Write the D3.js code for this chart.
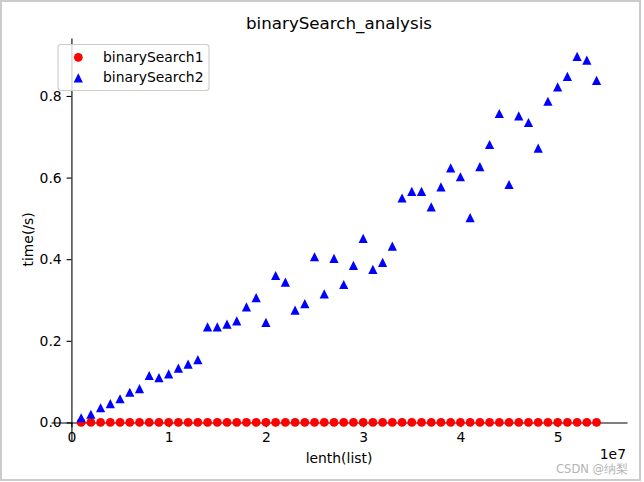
<!DOCTYPE html>
<html><head><meta charset="utf-8">
<script src="https://cdn.jsdelivr.net/npm/d3@7"></script>
<style>
body{margin:0;background:#fff}
svg{display:block}
text{font-family:"DejaVu Sans",sans-serif}
</style>
</head><body>
<svg id="c" width="644" height="482"></svg>
<script>
const lengths = [1000000,2000000,3000000,4000000,5000000,6000000,7000000,8000000,9000000,10000000,
  11000000,12000000,13000000,14000000,15000000,16000000,17000000,18000000,19000000,20000000,
  21000000,22000000,23000000,24000000,25000000,26000000,27000000,28000000,29000000,30000000,
  31000000,32000000,33000000,34000000,35000000,36000000,37000000,38000000,39000000,40000000,
  41000000,42000000,43000000,44000000,45000000,46000000,47000000,48000000,49000000,50000000,
  51000000,52000000,53000000,54000000];
const binarySearch1 = [0.00001,0.00001,0.00001,0.00001,0.00001,0.00001,0.00001,0.00001,0.00001,0.00001,
  0.00001,0.00001,0.00001,0.00001,0.00001,0.00001,0.00001,0.00001,0.00001,0.00001,
  0.00001,0.00001,0.00001,0.00001,0.00001,0.00001,0.00001,0.00001,0.00001,0.00001,
  0.00001,0.00001,0.00001,0.00001,0.00001,0.00001,0.00001,0.00001,0.00001,0.00001,
  0.00001,0.00001,0.00001,0.00001,0.00001,0.00001,0.00001,0.00001,0.00001,0.00001,
  0.00001,0.00001,0.00001,0.00001];
const binarySearch2 = [0.0115,0.020,0.036,0.046,0.058,0.074,0.083,0.115,0.110,0.119,
  0.133,0.143,0.154,0.234,0.234,0.241,0.249,0.283,0.306,0.245,
  0.360,0.344,0.275,0.291,0.406,0.315,0.402,0.338,0.385,0.451,
  0.375,0.392,0.432,0.550,0.566,0.566,0.528,0.577,0.624,0.602,
  0.502,0.627,0.681,0.757,0.583,0.751,0.735,0.672,0.787,0.822,
  0.848,0.897,0.888,0.838];
const xTicks = [0,10000000,20000000,30000000,40000000,50000000];
const xTickLabels = ["0","1","2","3","4","5"];
const yTicks = [0,0.2,0.4,0.6,0.8];
const yTickLabels = ["0.0","0.2","0.4","0.6","0.8"];
const seriesNames = ["binarySearch1","binarySearch2"];
const seriesColors = ["#ff0000","#0000ff"];

(function(){
const svg = d3.select("#c");
const pL = 51, pR = 627, pT = 38, pB = 440.8;
const x = d3.scaleLinear().domain([-2100000, 57130000]).range([pL, pR]);
const y = d3.scaleLinear().domain([-0.045, 0.942]).range([pB, pT]);

// outer border
svg.append("rect").attr("x",1).attr("y",1).attr("width",639).attr("height",479)
  .attr("fill","none").attr("stroke","#cccccc").attr("stroke-width",2);

// title
svg.append("text").attr("x",(pL+pR)/2).attr("y",29).attr("text-anchor","middle")
  .attr("font-size","16.7px").attr("fill","#000").text("binarySearch_analysis");

const tk = 4.86, pad = 4.86;
const xAxis = d3.axisBottom(x).tickValues(xTicks).tickFormat((d,i)=>xTickLabels[i])
  .tickSize(tk).tickSizeOuter(0).tickPadding(pad);
const yAxis = d3.axisLeft(y).tickValues(yTicks).tickFormat((d,i)=>yTickLabels[i])
  .tickSize(tk).tickSizeOuter(0).tickPadding(pad);

const gx = svg.append("g").attr("transform",`translate(0,${y(0)})`).call(xAxis);
const gy = svg.append("g").attr("transform",`translate(${x(0)},0)`).call(yAxis);
[gx,gy].forEach(g=>{
  g.selectAll("path.domain").attr("stroke","#000").attr("stroke-width",1.1);
  g.selectAll(".tick line").attr("stroke","#000").attr("stroke-width",1.1);
  g.selectAll(".tick text").attr("fill","#000").attr("font-size","13.9px")
    .attr("font-family","'DejaVu Sans',sans-serif");
});

// offset text
svg.append("text").attr("x",626).attr("y",459).attr("text-anchor","end")
  .attr("font-size","13.9px").text("1e7");

// axis labels
svg.append("text").attr("x",(pL+pR)/2).attr("y",463).attr("text-anchor","middle")
  .attr("font-size","13.9px").text("lenth(list)");
svg.append("text").attr("transform",`translate(32.5,${(pT+pB)/2}) rotate(-90)`)
  .attr("text-anchor","middle").attr("font-size","13.9px").text("time(/s)");

// markers
const triPath = (s)=>`M0,${-s}L${s},${s}L${-s},${s}Z`;
svg.append("g").selectAll("circle").data(lengths).join("circle")
  .attr("cx",(d)=>x(d)).attr("cy",(d,i)=>y(binarySearch1[i])).attr("r",4.4)
  .attr("fill",seriesColors[0]);
svg.append("g").selectAll("path").data(lengths).join("path")
  .attr("transform",(d,i)=>`translate(${x(d)},${y(binarySearch2[i])})`)
  .attr("d",triPath(4.6)).attr("fill",seriesColors[1]);

// legend
const lg = svg.append("g");
lg.append("rect").attr("x",58).attr("y",44.5).attr("width",151).attr("height",46)
  .attr("rx",3).attr("fill","#fff").attr("fill-opacity",0.8)
  .attr("stroke","#cccccc").attr("stroke-width",1.1);
lg.append("circle").attr("cx",78.3).attr("cy",57.3).attr("r",4.4).attr("fill",seriesColors[0]);
lg.append("path").attr("transform","translate(78.3,77.8)").attr("d",triPath(4.6)).attr("fill",seriesColors[1]);
lg.append("text").attr("x",103).attr("y",61.8).attr("font-size","13.9px").text(seriesNames[0]);
lg.append("text").attr("x",103).attr("y",82.3).attr("font-size","13.9px").text(seriesNames[1]);

// watermark
svg.append("text").attr("x",628).attr("y",473).attr("text-anchor","end")
  .attr("font-family","'Noto Sans CJK SC',sans-serif").attr("font-size","11.5px")
  .attr("fill","#b4b4b4").text("CSDN @纳梨");
})();
</script>
</body></html>
